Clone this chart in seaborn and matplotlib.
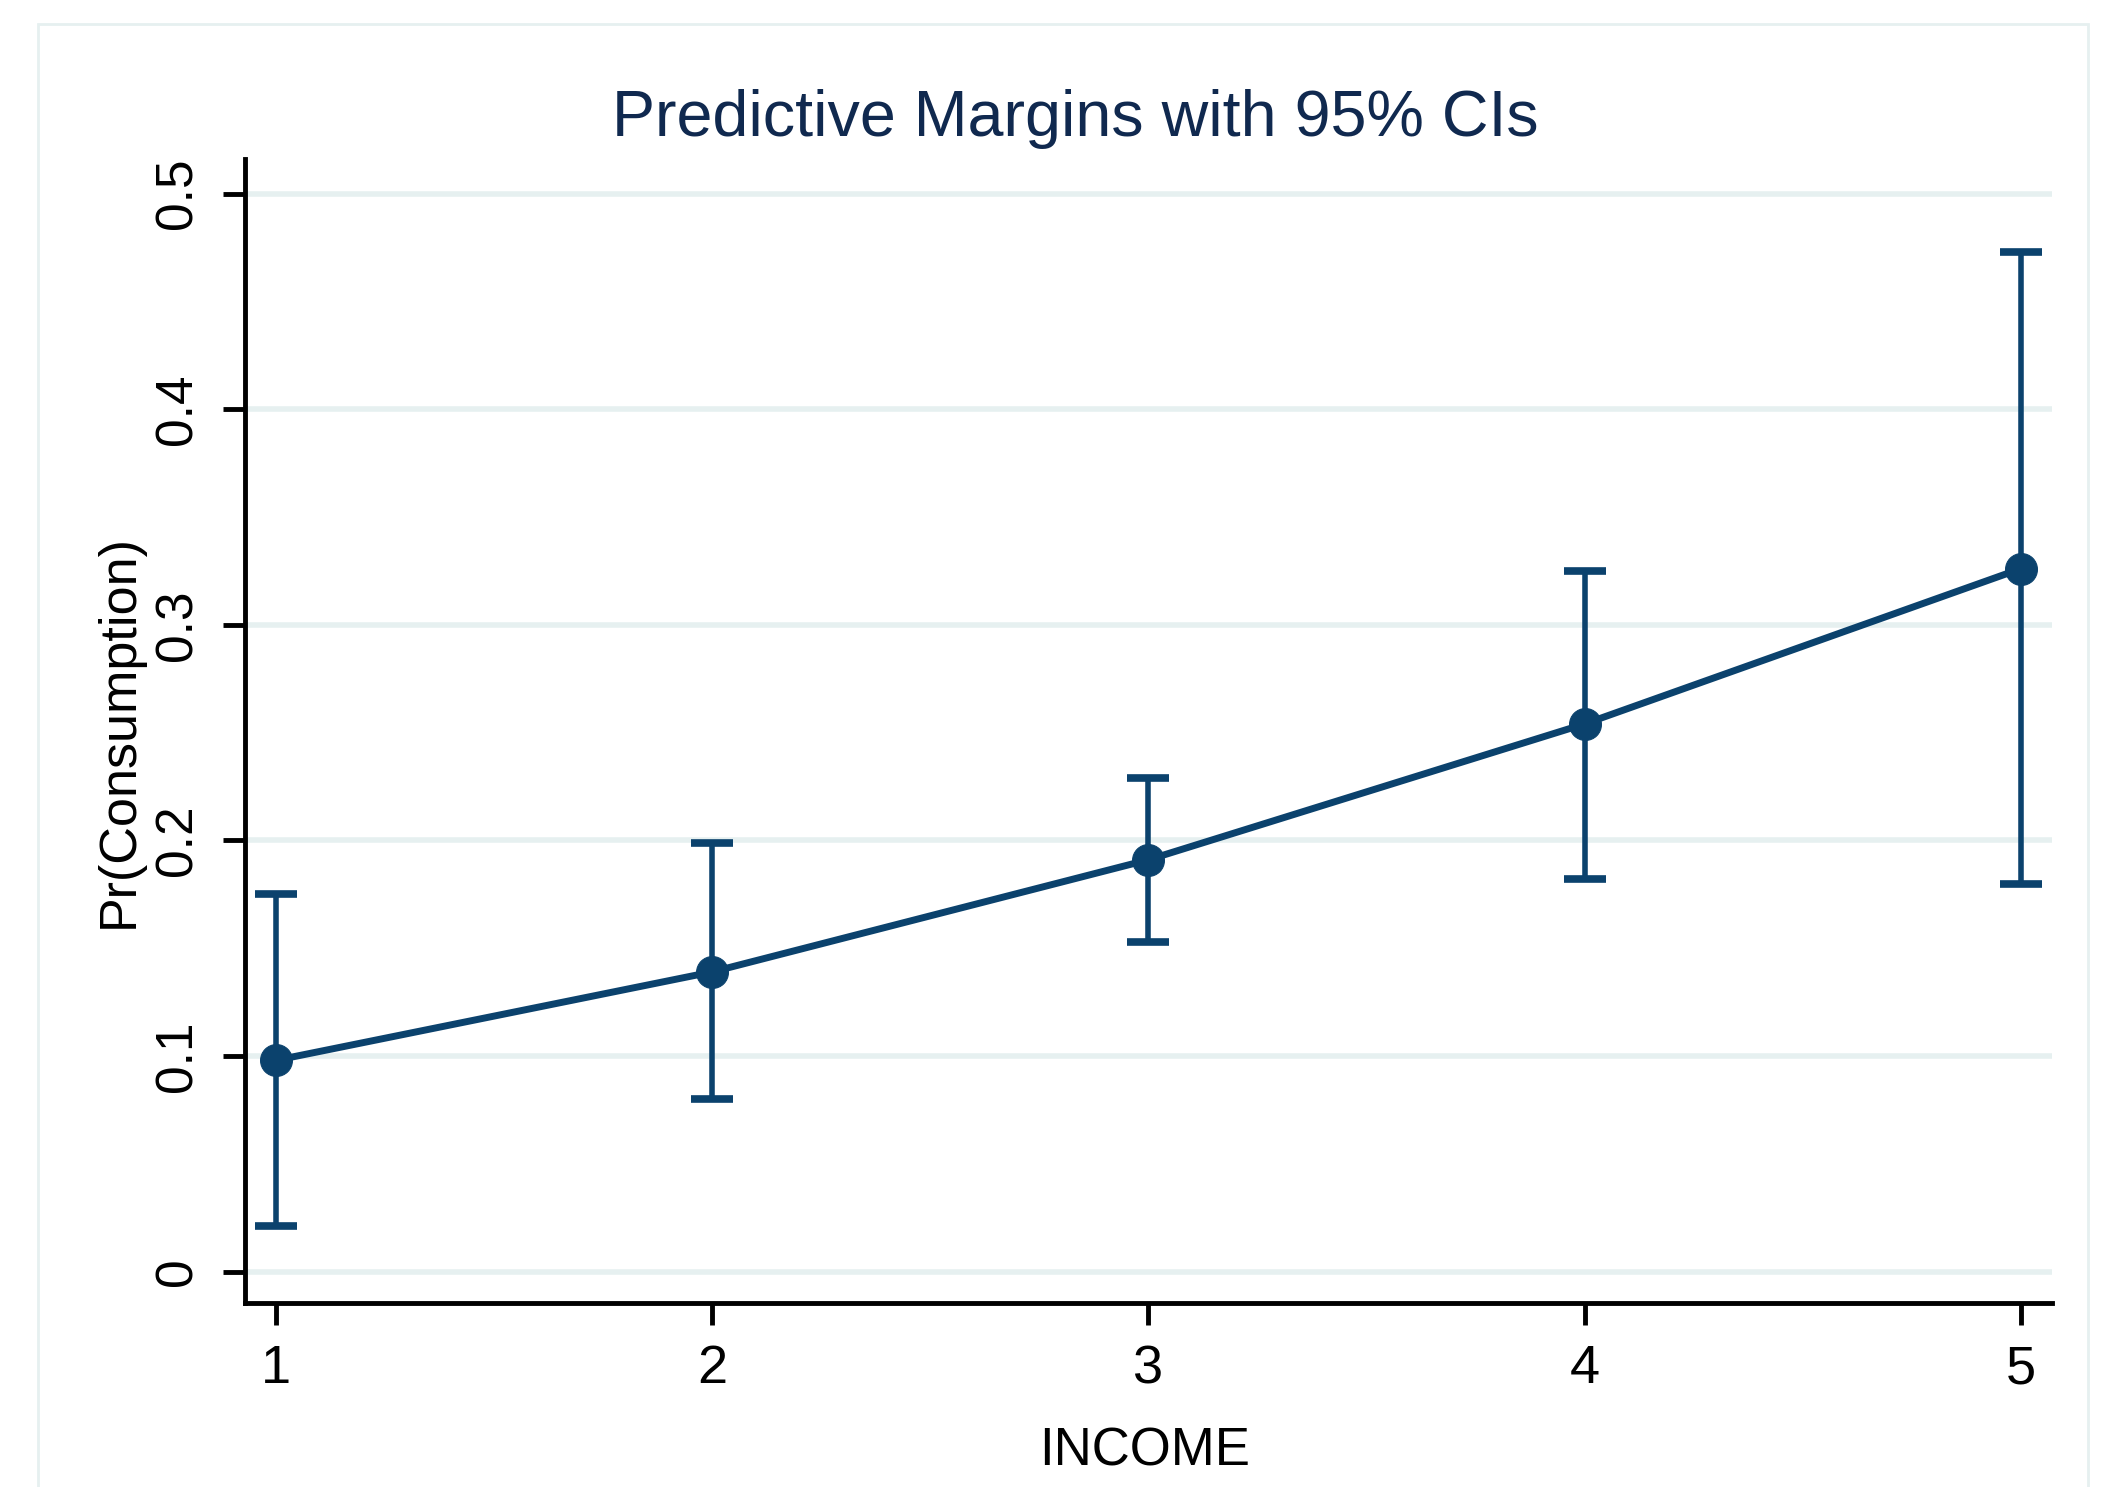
import matplotlib
matplotlib.use("Agg")
import matplotlib.pyplot as plt
import matplotlib.patches as patches
import seaborn as sns
import pandas as pd

# valores
income = [1, 2, 3, 4, 5]
margin = [0.098, 0.139, 0.191, 0.254, 0.326]
ci_low = [0.021, 0.080, 0.153, 0.182, 0.180]
ci_high = [0.175, 0.199, 0.229, 0.325, 0.473]
x_ticks = [1, 2, 3, 4, 5]
y_ticks = [0, 0.1, 0.2, 0.3, 0.4, 0.5]
y_tick_labels = ["0", "0.1", "0.2", "0.3", "0.4", "0.5"]

df = pd.DataFrame({"INCOME": income, "margin": margin, "lo": ci_low, "hi": ci_high})

sns.set_style("white")
plt.rcParams["font.family"] = ["Liberation Sans", "DejaVu Sans"]

navy = "#0b426d"
grid_c = "#e6f0f0"

fig = plt.figure(figsize=(21.09, 14.87), dpi=100)
ax = fig.add_axes([0.116, 0.124, 0.857, 0.769])

# grade horizontal
for v in y_ticks:
    ax.axhline(v, color=grid_c, linewidth=4, zorder=0)

# intervalos de confiança
ax.errorbar(df["INCOME"], df["margin"],
            yerr=[df["margin"] - df["lo"], df["hi"] - df["margin"]],
            fmt="none", ecolor=navy, elinewidth=4, capsize=15, capthick=5.5, zorder=2)

sns.lineplot(data=df, x="INCOME", y="margin", ax=ax, color=navy, linewidth=5,
             marker="o", markersize=23, markeredgecolor=navy, markerfacecolor=navy, zorder=3)

ax.set_xlim(0.928, 5.072)
ax.set_ylim(-0.0144, 0.516)
ax.set_xticks(x_ticks)
ax.set_xticklabels([str(t) for t in x_ticks])
ax.set_yticks(y_ticks)
ax.set_yticklabels(y_tick_labels, rotation=90, va="center")

for s in ["top", "right"]:
    ax.spines[s].set_visible(False)
for s in ["left", "bottom"]:
    ax.spines[s].set_color("black")
    ax.spines[s].set_linewidth(3.5)

ax.tick_params(axis="both", direction="out", length=16, width=3.5, color="black",
               labelcolor="black", labelsize=37, pad=14, left=True, bottom=True)
ax.tick_params(axis="x", labelsize=39)

ax.set_xlabel("INCOME", fontsize=38, color="black")
ax.set_ylabel("Pr(Consumption)", fontsize=37.5, color="black")
ax.xaxis.set_label_coords(0.498, -0.108)
ax.yaxis.set_label_coords(-0.056, 0.5)

fig.text(0.51, 0.920, "Predictive Margins with 95% CIs", fontsize=46.5,
         color="#10294f", ha="center", va="center")

# moldura externa clara
frame = patches.Rectangle((0.018, -0.01), 0.972, 0.994, transform=fig.transFigure,
                          fill=False, edgecolor=grid_c, linewidth=2)
fig.patches.append(frame)

plt.savefig("out.png", dpi=100)
plt.close()
